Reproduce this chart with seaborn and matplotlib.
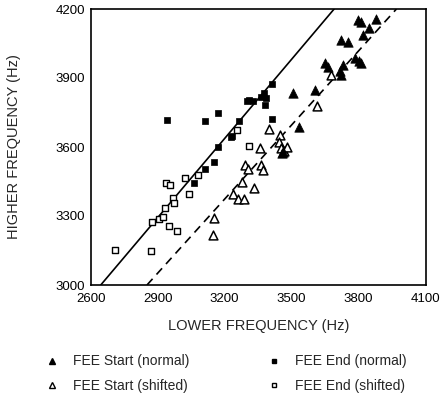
import matplotlib
matplotlib.use("Agg")
import matplotlib.pyplot as plt
import seaborn as sns
import pandas as pd
from matplotlib.lines import Line2D

# ---- data (Hz) ----
start_normal_x = [3797, 3812, 3876, 3845, 3820, 3719, 3752, 3650, 3662, 3729, 3722, 3716,
                  3785, 3812, 3800, 3505, 3606, 3534, 3455, 3462]
start_normal_y = [4152, 4145, 4157, 4119, 4087, 4065, 4058, 3964, 3949, 3957, 3913, 3930,
                  3986, 3964, 3975, 3834, 3848, 3686, 3573, 3580]

start_shifted_x = [3150, 3148, 3236, 3258, 3287, 3278, 3292, 3305, 3332, 3360, 3362, 3372,
                   3400, 3447, 3444, 3466, 3480, 3452, 3615, 3677]
start_shifted_y = [3290, 3218, 3395, 3373, 3373, 3450, 3522, 3505, 3420, 3596, 3520, 3500,
                   3680, 3652, 3620, 3584, 3600, 3594, 3778, 3913]

end_normal_x = [2942, 3114, 3171, 3264, 3410, 3377, 3362, 3299, 3325, 3310, 3380, 3410,
                3234, 3227, 3170, 3152, 3110, 3062, 3385]
end_normal_y = [3717, 3713, 3750, 3714, 3874, 3834, 3819, 3801, 3801, 3806, 3783, 3722,
                3650, 3642, 3599, 3534, 3504, 3445, 3815]

end_shifted_x = [2709, 2870, 2874, 2907, 2922, 2934, 2949, 2987, 2938, 2957, 2967, 2972,
                 3021, 3039, 3080, 3257, 3309]
end_shifted_y = [3152, 3148, 3275, 3286, 3297, 3333, 3258, 3236, 3442, 3435, 3377, 3358,
                 3464, 3396, 3478, 3674, 3606]

fit_normal_x = [2645, 3690]
fit_normal_y = [3000, 4200]
fit_shifted_x = [2852, 3969]
fit_shifted_y = [3000, 4200]

x_ticks = [2600, 2900, 3200, 3500, 3800, 4100]
y_ticks = [3000, 3300, 3600, 3900, 4200]

labels = ["FEE Start (normal)", "FEE Start (shifted)", "FEE End (normal)", "FEE End (shifted)"]

# ---- style ----
sns.set_style("white")
plt.rcParams['font.family'] = ['Liberation Sans', 'DejaVu Sans']

fig = plt.figure(figsize=(4.41, 3.94), dpi=100)
ax = fig.add_axes([90.7 / 441, 1 - 285 / 394, (425.7 - 90.7) / 441, (285 - 9) / 394])

sns.lineplot(x=fit_normal_x, y=fit_normal_y, ax=ax, color="black", lw=1.2, linestyle="-")
sns.lineplot(x=fit_shifted_x, y=fit_shifted_y, ax=ax, color="black", lw=1.2, linestyle=(0, (5, 3.5)))

sns.scatterplot(x=start_shifted_x, y=start_shifted_y, ax=ax, marker="^", s=40,
                facecolor="white", edgecolor="black", linewidth=1.1, zorder=3)
sns.scatterplot(x=end_shifted_x, y=end_shifted_y, ax=ax, marker="s", s=20,
                facecolor="white", edgecolor="black", linewidth=1.0, zorder=3)
sns.scatterplot(x=start_normal_x, y=start_normal_y, ax=ax, marker="^", s=46,
                color="black", edgecolor="black", linewidth=0.5, zorder=4)
sns.scatterplot(x=end_normal_x, y=end_normal_y, ax=ax, marker="s", s=24,
                color="black", edgecolor="black", linewidth=0.5, zorder=4)

ax.set_xlim(2600, 4100)
ax.set_ylim(3000, 4200)
ax.set_xticks(x_ticks)
ax.set_yticks(y_ticks)
ax.set_xticks(range(2600, 4101, 100), minor=True)
ax.set_yticks(range(3000, 4201, 100), minor=True)
ax.tick_params(axis="both", which="major", direction="in", length=5, width=1,
               labelsize=9.5, colors="black", top=False, right=False)
ax.tick_params(axis="x", which="major", pad=6)
ax.tick_params(axis="y", which="major", pad=4)
ax.tick_params(axis="both", which="minor", direction="in", length=2.5, width=0.8,
               top=False, right=False)
for sp in ax.spines.values():
    sp.set_color("black")
    sp.set_linewidth(1.2)

ax.set_xlabel("LOWER FREQUENCY (Hz)", fontsize=10.5, labelpad=10)
ax.set_ylabel("HIGHER FREQUENCY (Hz)", fontsize=10.5, labelpad=25)

handles = [
    Line2D([], [], marker="^", linestyle="none", markersize=5, markerfacecolor="black",
           markeredgecolor="black"),
    Line2D([], [], marker="^", linestyle="none", markersize=4.5, markerfacecolor="white",
           markeredgecolor="black", markeredgewidth=1),
    Line2D([], [], marker="s", linestyle="none", markersize=3.5, markerfacecolor="black",
           markeredgecolor="black"),
    Line2D([], [], marker="s", linestyle="none", markersize=3.5, markerfacecolor="white",
           markeredgecolor="black", markeredgewidth=1),
]
fig.legend(handles, labels, ncol=2, loc="upper left", frameon=False,
           bbox_to_anchor=(33 / 441, 1 - 342 / 394), fontsize=10,
           handlelength=1.0, handletextpad=1.0, columnspacing=5.6, labelspacing=0.75)

fig.savefig("out.png", dpi=100)
